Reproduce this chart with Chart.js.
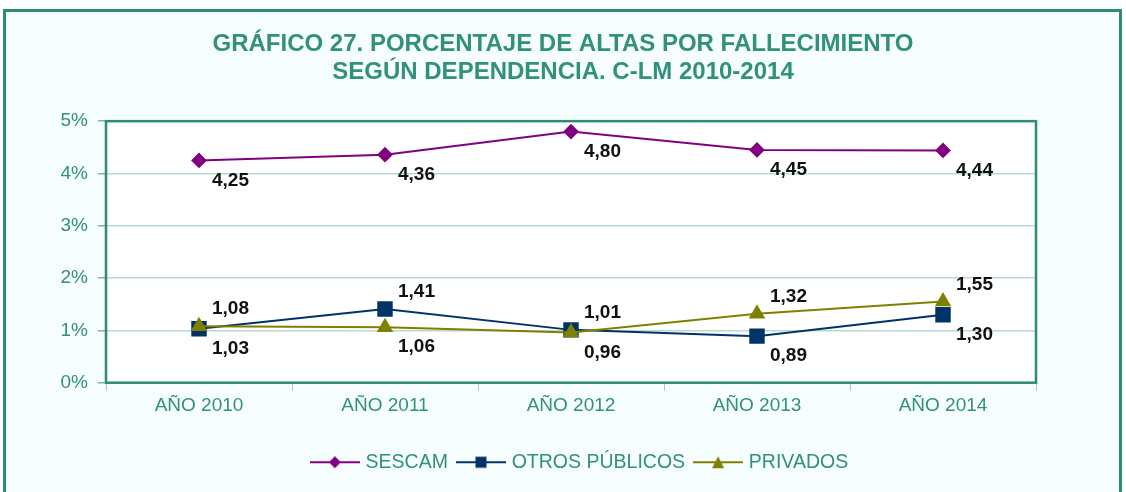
<!DOCTYPE html>
<html>
<head>
<meta charset="utf-8">
<script src="https://cdn.jsdelivr.net/npm/chart.js@4/dist/chart.umd.min.js"></script>
<style>
  html, body { margin: 0; padding: 0; background: #ffffff; }
  #wrap { position: relative; width: 1126px; height: 492px; overflow: hidden; }
  #frame {
    position: absolute; left: 3px; top: 9px; width: 1113px; height: 500px;
    border: 3px solid #2e8b74; background: #f5fdfd;
  }
  #canvas { position: absolute; left: 0; top: 0; }
</style>
</head>
<body>
<div id="wrap">
  <div id="frame"></div>
  <canvas id="canvas" width="1126" height="492"></canvas>
</div>
<script>
// data
var years = ['AÑO 2010', 'AÑO 2011', 'AÑO 2012', 'AÑO 2013', 'AÑO 2014'];
var sescam = [4.25, 4.36, 4.80, 4.45, 4.44];
var otrosPublicos = [1.03, 1.41, 1.01, 0.89, 1.30];
var privados = [1.08, 1.06, 0.96, 1.32, 1.55];
var yTicks = [0, 1, 2, 3, 4, 5];

var teal = '#2e8b74';
var tealText = '#32917b';
var font = '"Liberation Sans", Arial, sans-serif';

// little canvas with line + marker for the legend
function legendIcon(color, shape) {
    var c = document.createElement('canvas');
    c.width = 50; c.height = 16;
    var g = c.getContext('2d');
    g.strokeStyle = color;
    g.lineWidth = 2;
    g.beginPath(); g.moveTo(0, 8); g.lineTo(50, 8); g.stroke();
    g.fillStyle = color;
    g.beginPath();
    if (shape == 'diamond') {
        g.moveTo(25, 2); g.lineTo(31, 8); g.lineTo(25, 14); g.lineTo(19, 8);
    } else if (shape == 'square') {
        g.rect(19.5, 2.5, 11, 11);
    } else {
        g.moveTo(25, 2); g.lineTo(31, 14); g.lineTo(19, 14);
    }
    g.closePath(); g.fill();
    return c;
}

var plotBg = {
    id: 'plotBg',
    afterLayout: function(chart) {
        // legend sits a bit right of centre in the original
        chart.legend.left += 18;
        chart.legend.right += 18;
    },
    beforeDraw: function(chart) {
        var a = chart.chartArea, ctx = chart.ctx;
        ctx.save();
        ctx.fillStyle = '#ffffff';
        ctx.fillRect(a.left, a.top, a.right - a.left, a.bottom - a.top);
        ctx.restore();
    },
    afterDatasetsDraw: function(chart) {
        var a = chart.chartArea, ctx = chart.ctx;
        ctx.save();
        ctx.strokeStyle = teal;
        ctx.lineWidth = 2.5;
        ctx.strokeRect(a.left, a.top, a.right - a.left, a.bottom - a.top);
        ctx.restore();
    }
};

// value labels, comma decimals
var valueLabels = {
    id: 'valueLabels',
    afterDatasetsDraw: function(chart) {
        var ctx = chart.ctx;
        ctx.save();
        ctx.font = 'bold 19px ' + font;
        ctx.fillStyle = '#111111';
        ctx.textAlign = 'left';
        ctx.textBaseline = 'middle';
        chart.data.datasets.forEach(function(ds, di) {
            var meta = chart.getDatasetMeta(di);
            meta.data.forEach(function(pt, i) {
                var txt = ds.data[i].toFixed(2).replace('.', ',');
                var dy = ds.labelPos[i] == 'a' ? -17 : 20;
                ctx.fillText(txt, pt.x + 13, pt.y + dy);
            });
        });
        ctx.restore();
    }
};

var config = {
    type: 'line',
    data: {
        labels: years,
        datasets: [{
            label: 'SESCAM',
            data: sescam,
            order: 3,
            borderColor: '#800080',
            backgroundColor: '#800080',
            borderWidth: 2,
            pointStyle: 'rectRot',
            pointRadius: 6.5,
            pointHoverRadius: 6.5,
            labelPos: ['b', 'b', 'b', 'b', 'b'],
            legendIcon: legendIcon('#800080', 'diamond')
        }, {
            label: 'OTROS PÚBLICOS',
            data: otrosPublicos,
            order: 2,
            borderColor: '#003366',
            backgroundColor: '#003366',
            borderWidth: 2,
            pointStyle: 'rect',
            pointRadius: 9.5,
            pointHoverRadius: 9.5,
            labelPos: ['b', 'a', 'a', 'b', 'b'],
            legendIcon: legendIcon('#003366', 'square')
        }, {
            label: 'PRIVADOS',
            data: privados,
            order: 1,
            borderColor: '#808000',
            backgroundColor: '#808000',
            borderWidth: 2,
            pointStyle: 'triangle',
            pointRadius: 7.5,
            pointHoverRadius: 7.5,
            labelPos: ['a', 'b', 'b', 'a', 'a'],
            legendIcon: legendIcon('#808000', 'triangle')
        }]
    },
    options: {
        responsive: false,
        animation: false,
        layout: { padding: { left: 0, right: 0, top: 30, bottom: 10 } },
        plugins: {
            title: {
                display: true,
                text: ['GRÁFICO 27. PORCENTAJE DE ALTAS POR FALLECIMIENTO', 'SEGÚN DEPENDENCIA. C-LM 2010-2014'],
                color: tealText,
                font: { family: font, size: 24, weight: 'bold', lineHeight: 1.17 },
                padding: { top: 0, bottom: 35 }
            },
            legend: {
                position: 'bottom',
                labels: {
                    color: tealText,
                    font: { family: font, size: 19.5 },
                    usePointStyle: true,
                    pointStyleWidth: 42,
                    boxHeight: 16,
                    padding: 12,
                    generateLabels: function(chart) {
                        return chart.data.datasets.map(function(ds, i) {
                            return {
                                text: ds.label,
                                fontColor: tealText,
                                pointStyle: ds.legendIcon,
                                datasetIndex: i,
                                lineWidth: 0
                            };
                        });
                    }
                }
            },
            tooltip: { enabled: false }
        },
        scales: {
            x: {
                offset: true,
                afterFit: function(scale) { scale.height += 19; },
                grid: { display: true, drawOnChartArea: false, offset: true, color: '#b0c8c2', tickLength: 8 },
                border: { display: false },
                ticks: {
                    color: tealText,
                    padding: 4,
                    font: { family: font, size: 19 }
                }
            },
            y: {
                min: 0,
                max: 5,
                afterFit: function(scale) { scale.width = 106; },
                afterBuildTicks: function(scale) {
                    scale.ticks = yTicks.map(function(v) { return { value: v }; });
                },
                grid: { color: '#b9d9d2', lineWidth: 1.5, tickLength: 8, tickColor: '#7fb3a6' },
                border: { display: false },
                ticks: {
                    color: tealText,
                    padding: 10,
                    font: { family: font, size: 19 },
                    callback: function(v) { return v + '%'; }
                }
            },
            // empty axis on the right, keeps the title centred on the page
            yRight: {
                position: 'right',
                min: 0,
                max: 5,
                afterFit: function(scale) { scale.width = 90; },
                grid: { display: false },
                border: { display: false },
                ticks: { display: false }
            }
        }
    },
    plugins: [plotBg, valueLabels]
};

window.onload = function() {
    var ctx = document.getElementById('canvas').getContext('2d');
    window.myLine = new Chart(ctx, config);
};
</script>
</body>
</html>
